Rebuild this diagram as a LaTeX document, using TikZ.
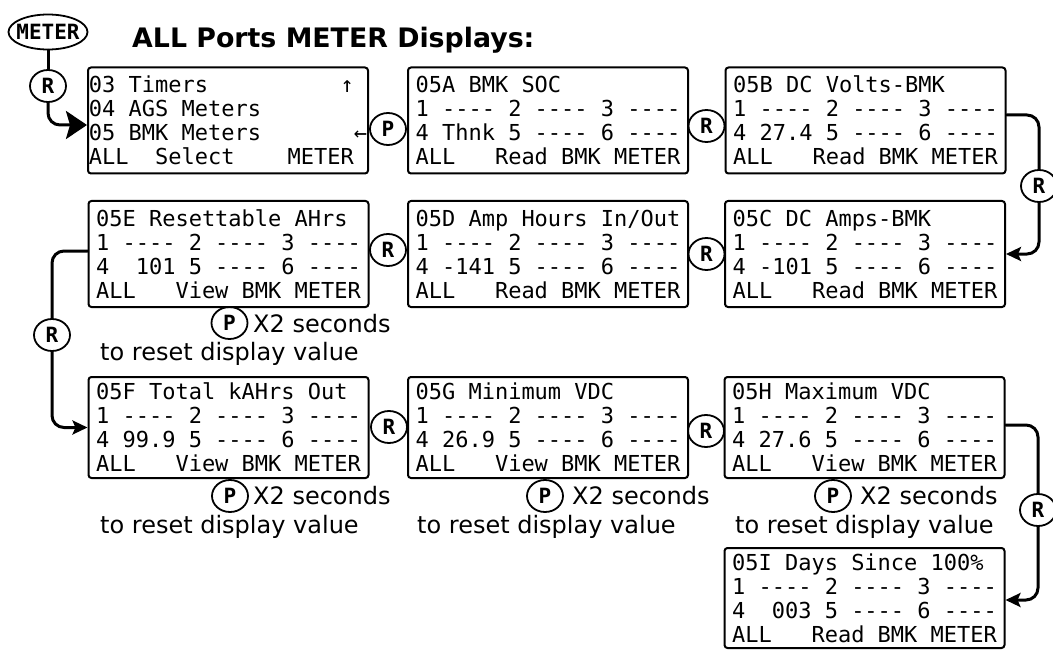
\documentclass[tikz,border=0pt]{standalone}
\usepackage{fontspec}
\setmainfont{DejaVu Sans}
\setmonofont{DejaVu Sans Mono}
\usetikzlibrary{arrows.meta,shapes.geometric}

\begin{document}
\begin{tikzpicture}[x=1pt,y=-1pt,line join=round,line cap=round,
	lcd/.style={draw,line width=2pt,rounded corners=3pt,minimum width=280pt,minimum height=106pt,inner sep=0pt,align=left,font=\ttfamily\fontsize{22}{24}\selectfont},
	key/.style={draw,ellipse,line width=1.8pt,minimum width=36pt,minimum height=32pt,inner sep=0pt,font=\ttfamily\bfseries\fontsize{21}{21}\selectfont},
	note/.style={inner sep=0pt,anchor=base west,font=\fontsize{24}{24}\selectfont},
	conn/.style={line width=3pt,rounded corners=12pt},
	>={Stealth[length=15pt,width=14pt,inset=3pt]}]
	\def\dashrow{1~----~2~----~3~----}
	\useasboundingbox (0,0) rectangle (1053,650);
	% title and entry
	\node[anchor=base west,inner sep=0pt,font=\bfseries\fontsize{26.8}{30}\selectfont] (title) at (132,48) {ALL Ports METER Displays:};
	\node[key,minimum width=79pt,minimum height=35pt] (meter) at (48,32) {\makebox[30pt]{METER}};
	\node[key] (r0) at (48,86) {R};
	% displays
	\node[lcd] (menu) at (228,120.5) {03~Timers~~~~~~~~~~↑\\04~AGS~Meters\\05~BMK~Meters~~~~~~~←\\ALL~~Select~~~~METER};
	\node[lcd] (soc) at (548,120.5) {05A~BMK~SOC\\\dashrow\\4~Thnk~5~----~6~----\\ALL~~~Read~BMK~METER};
	\node[lcd] (volts) at (865.5,120.5) {05B~DC~Volts-BMK\\\dashrow\\4~27.4~5~----~6~----\\ALL~~~Read~BMK~METER};
	\node[lcd] (amps) at (865,254) {05C~DC~Amps-BMK\\\dashrow\\4~-101~5~----~6~----\\ALL~~~Read~BMK~METER};
	\node[lcd] (ahio) at (548,254) {05D~Amp~Hours~In/Out\\\dashrow\\4~-141~5~----~6~----\\ALL~~~Read~BMK~METER};
	\node[lcd] (reset) at (228.5,254) {05E~Resettable~AHrs\\\dashrow\\4~~101~5~----~6~----\\ALL~~~View~BMK~METER};
	\node[lcd,minimum height=101pt] (kahrs) at (228.5,427.5) {05F~Total~kAHrs~Out\\\dashrow\\4~99.9~5~----~6~----\\ALL~~~View~BMK~METER};
	\node[lcd,minimum height=101pt] (vmin) at (548,427.5) {05G~Minimum~VDC\\\dashrow\\4~26.9~5~----~6~----\\ALL~~~View~BMK~METER};
	\node[lcd,minimum height=101pt] (vmax) at (864.5,427.5) {05H~Maximum~VDC\\\dashrow\\4~27.6~5~----~6~----\\ALL~~~View~BMK~METER};
	\node[lcd,minimum height=100pt] (days) at (864.5,598) {05I~Days~Since~100\%\\\dashrow\\4~~003~5~----~6~----\\ALL~~~Read~BMK~METER};
	% keys between displays
	\node[key] (p1) at (388,129) {P};
	\node[key] (r1) at (706.5,126) {R};
	\node[key] (r2) at (1039,186) {R};
	\node[key] (r3) at (706.5,254) {R};
	\node[key] (r4) at (388,250) {R};
	\node[key] (r5) at (52,335) {R};
	\node[key] (r6) at (389,427) {R};
	\node[key] (r7) at (706,431) {R};
	\node[key] (r8) at (1038,510) {R};
	% hold P notes
	\node[key] (pnreset) at (229.5,323) {P};
	\node[note] (xreset) at (253,332) {X2 seconds};
	\node[note] (treset) at (100,360) {to reset display value};
	\foreach \n/\px/\xx/\tx in {kahrs/230/253/100,vmin/545/572/417,vmax/833/860/735}{
		\node[key] (pn\n) at (\px,496) {P};
		\node[note] (x\n) at (\xx,504) {X2 seconds};
		\node[note] (t\n) at (\tx,533) {to reset display value};
	}
	% connectors
	\draw[conn] (meter) -- (r0);
	\draw[conn,-{Stealth[length=21pt,width=28pt,inset=4pt]}] (r0) |- ([yshift=-4.5pt]menu.west);
	\draw[conn,->] ([yshift=5.5pt]volts.east) -| (r2) |- (amps.east);
	\draw[conn,->] ([yshift=3pt]reset.west) -| (r5) |- (kahrs.west);
	\draw[conn,->] ([yshift=2.5pt]vmax.east) -| (r8) |- ([yshift=-2pt]days.east);
\end{tikzpicture}
\end{document}
